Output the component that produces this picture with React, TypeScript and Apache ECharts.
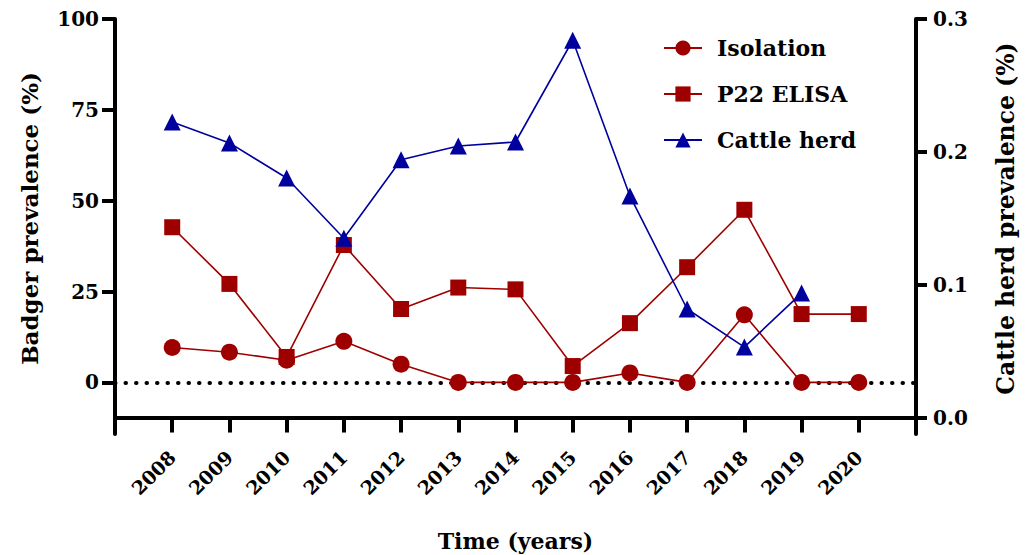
import React, { useEffect, useRef } from "react";
import * as echarts from "echarts";

const years = [2008, 2009, 2010, 2011, 2012, 2013, 2014, 2015, 2016, 2017, 2018, 2019, 2020];
const isolation = [9.6, 8.3, 6.1, 11.3, 5.0, 0, 0, 0, 2.6, 0, 18.6, 0, 0];
const p22Elisa = [42.7, 27.1, 7.0, 37.8, 20.2, 26.1, 25.6, 4.5, 16.3, 31.7, 47.5, 18.8, 18.8];
const cattleHerd = [0.2225, 0.2067, 0.1803, 0.135, 0.194, 0.2044, 0.2074, 0.284, 0.1668, 0.0817, 0.053, 0.0937, null];
const leftTicks = [0, 25, 50, 75, 100];
const rightTicks = [0, 0.1, 0.2, 0.3];

const FONT = "DejaVu Serif";
const RED = "#9E0000";
const BLUE = "#00009E";

export default function App() {
  const ref = useRef<HTMLDivElement>(null);
  useEffect(() => {
    if (!ref.current) return;
    const chart = echarts.init(ref.current, null, { renderer: "svg" });
    const pair = (arr: (number | null)[]) => years.map((y, i) => [y, arr[i]]);
    chart.setOption({
      animation: false,
      textStyle: { fontFamily: FONT, fontWeight: "bold", color: "#000" },
      grid: { left: 115, right: 115, top: 19, bottom: 121, containLabel: false, outerBoundsMode: "none" },
      legend: {
        orient: "vertical",
        left: 658,
        top: 32,
        itemWidth: 38,
        itemHeight: 19,
        itemGap: 24,
        data: ["Isolation", "P22 ELISA", "Cattle herd"],
        textStyle: { fontFamily: FONT, fontWeight: "bold", fontSize: 22, color: "#000", padding: [0, 0, 0, 10] },
      },
      xAxis: {
        type: "value",
        min: 2007,
        max: 2021,
        name: "Time (years)",
        nameLocation: "middle",
        nameGap: 96,
        nameMoveOverlap: false,
        nameTextStyle: { fontFamily: FONT, fontWeight: "bold", fontSize: 22, color: "#000" },
        axisLine: { onZero: true, onZeroAxisIndex: 1, lineStyle: { color: "#000", width: 4 } },
        axisTick: { show: true, length: 15, lineStyle: { color: "#000", width: 4 }, customValues: years },
        axisLabel: {
          customValues: years,
          rotate: 45,
          margin: 20,
          fontFamily: FONT,
          fontWeight: "bold",
          fontSize: 19,
          color: "#000",
          formatter: (v: number) => String(v),
        },
        splitLine: { show: false },
      },
      yAxis: [
        {
          type: "value",
          min: -14.2,
          max: 100,
          position: "left",
          name: "Badger prevalence (%)",
          nameLocation: "middle",
          nameRotate: 90,
          nameGap: 74,
          nameMoveOverlap: false,
          nameTextStyle: { fontFamily: FONT, fontWeight: "bold", fontSize: 23, color: "#000", padding: [0, 0, 0, 16] },
          axisLine: { show: true, lineStyle: { color: "#000", width: 4 } },
          axisTick: { show: true, length: 13, lineStyle: { color: "#000", width: 4 }, customValues: leftTicks },
          axisLabel: { customValues: leftTicks, margin: 16, fontFamily: FONT, fontWeight: "bold", fontSize: 20, color: "#000" },
          splitLine: { show: false },
        },
        {
          type: "value",
          min: -0.0124,
          max: 0.3,
          position: "right",
          name: "Cattle herd prevalence (%)",
          nameLocation: "middle",
          nameRotate: 90,
          nameGap: 78,
          nameMoveOverlap: false,
          nameTextStyle: { fontFamily: FONT, fontWeight: "bold", fontSize: 23.5, color: "#000", padding: [0, 0, 0, 16] },
          axisLine: { show: true, lineStyle: { color: "#000", width: 4 } },
          axisTick: { show: true, length: 11, lineStyle: { color: "#000", width: 4 }, customValues: rightTicks },
          axisLabel: {
            customValues: rightTicks,
            margin: 17,
            fontFamily: FONT,
            fontWeight: "bold",
            fontSize: 20,
            color: "#000",
            formatter: (v: number) => v.toFixed(1),
          },
          splitLine: { show: false },
        },
      ],
      series: [
        {
          name: "Isolation",
          type: "line",
          yAxisIndex: 0,
          data: pair(isolation),
          symbol: "circle",
          symbolSize: 17,
          color: RED,
          lineStyle: { color: RED, width: 1.6 },
          itemStyle: { color: RED },
          z: 3,
          markLine: {
            silent: true,
            symbol: "none",
            label: { show: false },
            lineStyle: { color: "#000", width: 4, type: [0.5, 10], cap: "round" },
            data: [{ yAxis: 0 }],
            z: 1,
          },
        },
        {
          name: "P22 ELISA",
          type: "line",
          yAxisIndex: 0,
          data: pair(p22Elisa),
          symbol: "rect",
          symbolSize: 16,
          color: RED,
          lineStyle: { color: RED, width: 1.6 },
          itemStyle: { color: RED },
          z: 3,
        },
        {
          name: "Cattle herd",
          type: "line",
          yAxisIndex: 1,
          data: pair(cattleHerd),
          symbol: "triangle",
          symbolSize: 17,
          color: BLUE,
          lineStyle: { color: BLUE, width: 1.6 },
          itemStyle: { color: BLUE },
          z: 3,
        },
      ],
    });
    return () => chart.dispose();
  }, []);
  return <div ref={ref} style={{ width: 1031, height: 555, position: "absolute", left: 0, top: 0 }} />;
}
